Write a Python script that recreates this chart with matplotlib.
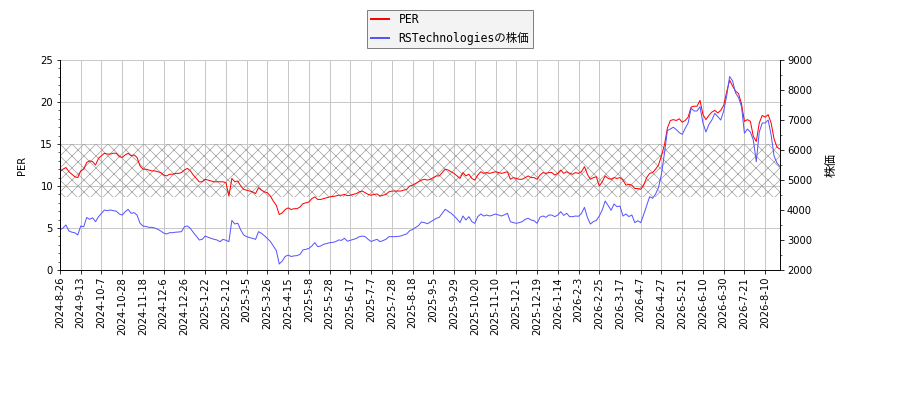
# PER vs share price, dual axis, with the hatched "normal" PER band

import matplotlib
matplotlib.use("agg")
import matplotlib.pyplot as plt
from matplotlib.ticker import MultipleLocator
import numpy as np

plt.rcParams["font.family"] = ["DejaVu Sans", "Noto Sans CJK JP"]
plt.rcParams["font.size"] = 10
plt.rcParams["hatch.color"] = "#a0a0a0"
plt.rcParams["hatch.linewidth"] = 0.7

# one value every two trading days
per = [
    11.7, 12.0, 12.2, 11.7, 11.4, 11.1, 11.0,
    11.8, 12.0, 12.8, 13.0, 12.9, 12.5, 13.3,
    13.6, 13.9, 13.8, 13.8, 13.9, 13.9, 13.5,
    13.4, 13.7, 13.9, 13.6, 13.7, 13.4, 12.4,
    12.0, 12.0, 11.9, 11.8, 11.8, 11.7, 11.6,
    11.3, 11.2, 11.4, 11.4, 11.5, 11.5, 11.6,
    11.9, 12.1, 11.8, 11.3, 10.9, 10.5, 10.5,
    10.8, 10.7, 10.6, 10.5, 10.5, 10.5, 10.5,
    10.4, 8.8, 10.9, 10.5, 10.6, 10.0, 9.6,
    9.5, 9.4, 9.3, 9.1, 9.8, 9.5, 9.3,
    9.2, 8.8, 8.2, 7.7, 6.6, 6.8, 7.2,
    7.4, 7.2, 7.3, 7.3, 7.5, 7.9, 8.0,
    8.1, 8.5, 8.7, 8.4, 8.4, 8.5, 8.6,
    8.7, 8.75, 8.8, 8.9, 8.9, 9.0, 8.85,
    8.9, 9.0, 9.1, 9.3, 9.4, 9.2, 9.0,
    8.9, 9.0, 9.05, 8.8, 8.9, 9.0, 9.3,
    9.4, 9.4, 9.4, 9.4, 9.5, 9.6, 10.0,
    10.1, 10.3, 10.5, 10.7, 10.8, 10.7, 10.8,
    11.0, 11.2, 11.2, 11.6, 12.0, 11.9, 11.7,
    11.5, 11.2, 10.9, 11.6, 11.2, 11.4, 10.9,
    10.7, 11.3, 11.7, 11.5, 11.6, 11.5, 11.6,
    11.7, 11.6, 11.5, 11.6, 11.7, 10.8, 11.0,
    10.9, 10.8, 10.8, 11.0, 11.2, 11.0, 11.0,
    10.8, 11.3, 11.6, 11.5, 11.6, 11.6, 11.3,
    11.5, 11.9, 11.5, 11.7, 11.5, 11.4, 11.6,
    11.5, 11.7, 12.3, 11.4, 10.8, 11.0, 11.1,
    10.0, 10.5, 11.2, 10.9, 10.8, 11.0, 10.9,
    11.0, 10.7, 10.1, 10.2, 10.1, 9.7, 9.7,
    9.6, 10.1, 11.0, 11.5, 11.6, 12.0, 12.5,
    13.6, 14.9, 16.9, 17.8, 17.9, 17.8, 18.0,
    17.6, 17.8, 18.2, 19.4, 19.5, 19.5, 20.2,
    18.5, 17.9, 18.4, 18.8, 19.0, 18.7, 19.0,
    19.6, 21.2, 22.6, 21.9, 21.3, 21.0, 19.8,
    17.7, 17.9, 17.7, 15.9, 15.3, 17.5, 18.4,
    18.2, 18.5, 17.5, 15.6, 14.6, 14.4,
]

price = [
    3333, 3400, 3500, 3300, 3260, 3240, 3170,
    3467, 3440, 3750, 3690, 3740, 3611, 3778,
    3889, 4000, 3978, 4000, 3978, 3960, 3867,
    3833, 3944, 4022, 3889, 3911, 3830, 3560,
    3467, 3450, 3422, 3422, 3400, 3356, 3300,
    3230, 3200, 3244, 3244, 3260, 3267, 3278,
    3444, 3467, 3389, 3250, 3133, 3000, 3022,
    3133, 3090, 3056, 3022, 3000, 2944, 3022,
    2990, 2944, 3650, 3533, 3560, 3333, 3167,
    3111, 3080, 3056, 3022, 3278, 3222, 3140,
    3050, 2950, 2800, 2650, 2200, 2300, 2450,
    2500, 2450, 2470, 2480, 2520, 2670, 2690,
    2720, 2800, 2911, 2778, 2800, 2860, 2880,
    2911, 2920, 2944, 3000, 2990, 3056, 2960,
    2990, 3022, 3050, 3110, 3133, 3111, 3022,
    2950, 2990, 3022, 2944, 2980, 3022, 3111,
    3111, 3111, 3120, 3133, 3170, 3200, 3311,
    3350, 3420, 3480, 3600, 3580, 3540, 3600,
    3660, 3722, 3756, 3889, 4022, 3960, 3890,
    3800, 3700, 3578, 3800, 3667, 3778, 3611,
    3556, 3780, 3867, 3800, 3833, 3800, 3830,
    3867, 3833, 3800, 3840, 3889, 3611, 3580,
    3556, 3580, 3611, 3689, 3722, 3667, 3644,
    3556, 3760, 3800, 3756, 3833, 3830, 3778,
    3833, 3944, 3820, 3889, 3778, 3778, 3800,
    3790, 3889, 4089, 3750, 3533, 3611, 3650,
    3800, 4000, 4300, 4150, 3990, 4200, 4111,
    4130, 3800, 3867, 3780, 3833, 3578, 3644,
    3578, 3850, 4150, 4444, 4389, 4530, 4750,
    5200, 5889, 6650, 6700, 6760, 6680, 6580,
    6520, 6720, 6900, 7389, 7300, 7300, 7444,
    6900, 6600, 6850, 7000, 7222, 7111, 7000,
    7300, 7800, 8450, 8300, 7900, 7750, 7450,
    6556, 6700, 6600, 6333, 5611, 6600, 6900,
    6900, 7000, 6500, 5800, 5560, 5450,
]

tick_labels = [
    "2024-8-26", "2024-9-13", "2024-10-7", "2024-10-28", "2024-11-18",
    "2024-12-6", "2024-12-26", "2025-1-22", "2025-2-12", "2025-3-5",
    "2025-3-26", "2025-4-15", "2025-5-8", "2025-5-28", "2025-6-17",
    "2025-7-7", "2025-7-28", "2025-8-18", "2025-9-5", "2025-9-29",
    "2025-10-20", "2025-11-10", "2025-12-1", "2025-12-19", "2026-1-14",
    "2026-2-3", "2026-2-25", "2026-3-17", "2026-4-7", "2026-4-27",
    "2026-5-21", "2026-6-10", "2026-6-30", "2026-7-21", "2026-8-10",
]

per_band = (8.65, 15)
step = 2          # trading days between values
tick_every = 14   # trading days between date labels

x = np.arange(len(per)) * step

fig = plt.figure(figsize=(900 / 72, 400 / 72), dpi=72)
ax = fig.add_axes([60 / 900, 130 / 400, 720 / 900, 210 / 400])
ax2 = ax.twinx()

ax.axhspan(per_band[0], per_band[1], fill=False, hatch="xx",
           edgecolor="#a0a0a0", linewidth=0)
line1, = ax.plot(x, per, color="red", lw=1, label="PER")
line2, = ax2.plot(x, price, color="#5555ff", lw=1,
                  label="RSTechnologiesの株価")

ax.set_xlim(0, x[-1])
ax.set_ylim(0, 25)
ax2.set_ylim(2000, 9000)
ax.set_xticks(np.arange(len(tick_labels)) * tick_every)
ax.set_xticklabels(tick_labels, rotation=90)
ax.yaxis.set_major_locator(MultipleLocator(5))
ax.yaxis.set_minor_locator(MultipleLocator(1))
ax2.yaxis.set_major_locator(MultipleLocator(1000))
ax2.yaxis.set_minor_locator(MultipleLocator(500))
ax.grid(True, color="#c8c8c8", lw=1)
ax.set_axisbelow(True)

ax.set_ylabel("PER", labelpad=13)
ax2.set_ylabel("株価", fontsize=12, labelpad=13)
for a in (ax, ax2):
    a.spines["top"].set_visible(False)

leg = fig.legend(handles=[line1, line2], loc="upper center",
                 bbox_to_anchor=(0.5, 1 - 10 / 400), borderaxespad=0,
                 fancybox=False, edgecolor="#808080", facecolor="#f3f3f3",
                 framealpha=1,
                 prop={"family": ["DejaVu Sans Mono", "Noto Sans CJK JP"],
                       "size": 11.5},
                 handlelength=1.6, handletextpad=0.8, borderpad=0.3,
                 labelspacing=0.45)
for h in leg.get_lines():
    h.set_linewidth(2)

plt.savefig("out.png", dpi=72)
